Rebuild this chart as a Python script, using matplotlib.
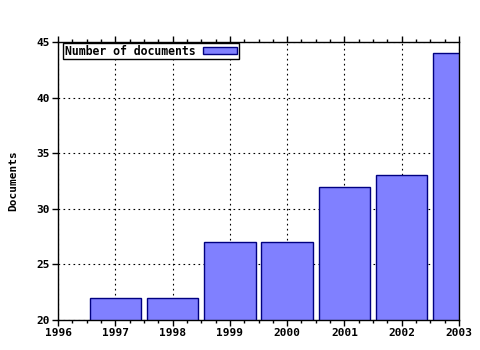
import matplotlib
matplotlib.use("Agg")
import matplotlib.pyplot as plt
from matplotlib.ticker import MultipleLocator

years = [1997, 1998, 1999, 2000, 2001, 2002, 2003]
docs = [22, 22, 27, 27, 32, 33, 44]
xticks = [1996, 1997, 1998, 1999, 2000, 2001, 2002, 2003]
yticks = [20, 25, 30, 35, 40, 45]

plt.rcParams['font.family'] = ['DejaVu Sans Mono']
plt.rcParams['font.weight'] = 'bold'

fig = plt.figure(figsize=(4.8, 3.5), dpi=100)
ax = fig.add_axes([58/480, 30/350, (459-58)/480, (320-42)/350])

ax.bar(years, docs, width=0.9, color='#8080ff', edgecolor='#000080',
       linewidth=1, label='Number of documents', zorder=2)

ax.set_xlim(1996, 2003)
ax.set_ylim(20, 45)
ax.set_xticks(xticks)
ax.set_xticklabels([str(x) for x in xticks], fontsize=8, fontweight='bold')
ax.set_yticks(yticks)
ax.set_yticklabels([str(y) for y in yticks], fontsize=8, fontweight='bold')
ax.xaxis.set_minor_locator(MultipleLocator(0.25))
ax.tick_params(axis='x', which='major', direction='out', length=4, width=1,
               top=True, bottom=True, pad=2)
ax.tick_params(axis='x', which='minor', direction='out', length=2, width=1,
               top=True, bottom=True)
ax.tick_params(axis='y', which='major', direction='out', length=4, width=1,
               right=False, pad=2)
ax.set_axisbelow(True)
ax.grid(True, which='major', color='black', linestyle=(0, (1.5, 3)), linewidth=0.8)

for s in ax.spines.values():
    s.set_linewidth(1)
    s.set_color('black')

ax.set_ylabel('Documents', fontsize=8, fontweight='bold', labelpad=13)

leg = ax.legend(loc='upper left', bbox_to_anchor=(5/401, 1 - 1/278),
                markerfirst=False, fancybox=False,
                edgecolor='black', framealpha=1, borderaxespad=0,
                borderpad=0.15, handlelength=2.9, handleheight=0.6,
                handletextpad=0.7, prop={'size': 8.3, 'weight': 'bold'})
leg.get_frame().set_linewidth(1)

fig.savefig('out.png', dpi=100)
